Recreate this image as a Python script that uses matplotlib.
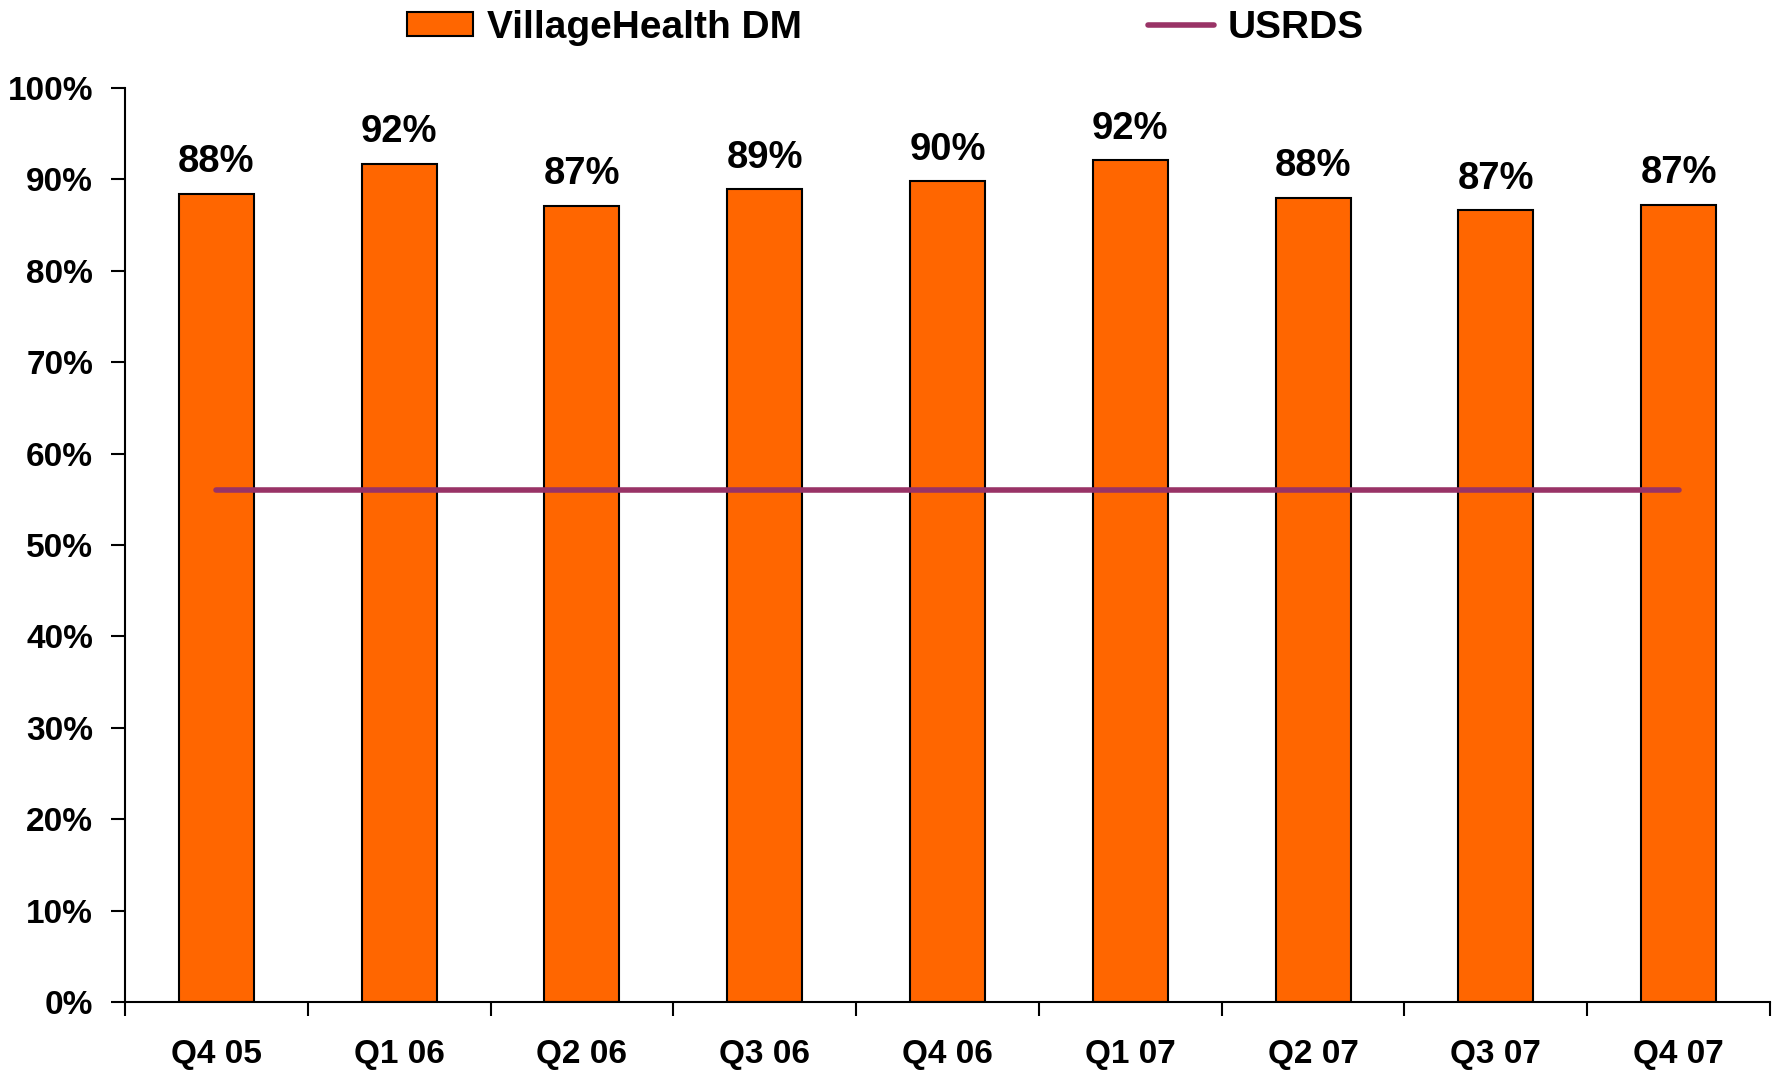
import matplotlib
matplotlib.use("Agg")
import matplotlib.pyplot as plt
from matplotlib.ticker import FixedLocator, PercentFormatter
import numpy as np

categories = ["Q4 05", "Q1 06", "Q2 06", "Q3 06", "Q4 06", "Q1 07", "Q2 07", "Q3 07", "Q4 07"]
villagehealth = [0.884, 0.917, 0.871, 0.889, 0.898, 0.921, 0.880, 0.866, 0.872]
bar_labels = ["88%", "92%", "87%", "89%", "90%", "92%", "88%", "87%", "87%"]
usrds = [0.56, 0.56, 0.56, 0.56, 0.56, 0.56, 0.56, 0.56, 0.56]
yticks = [0, 0.1, 0.2, 0.3, 0.4, 0.5, 0.6, 0.7, 0.8, 0.9, 1.0]

plt.rcParams['font.family'] = ['Liberation Sans', 'DejaVu Sans']
plt.rcParams['font.weight'] = 'bold'

fig = plt.figure(figsize=(17.8, 10.7), dpi=100)
ax = fig.add_axes([125/1780, 1-1002/1070, (1770-125)/1780, (1002-88)/1070])

x = np.arange(len(categories))
bars = ax.bar(x, villagehealth, width=0.41, color="#FF6600", edgecolor="black",
              linewidth=1.5, label="VillageHealth DM", zorder=2)
line, = ax.plot(x, usrds, color="#993366", linewidth=4.0, solid_capstyle="round",
                label="USRDS", zorder=3)

for xi, v, lab in zip(x, villagehealth, bar_labels):
    ax.annotate(lab, (xi, v), xytext=(0, 15.5), textcoords="offset points",
                ha="center", va="baseline", fontsize=27.5, fontweight="bold")

ax.set_xlim(-0.5, len(categories) - 0.5)
ax.set_ylim(0, 1.0)
ax.yaxis.set_major_locator(FixedLocator(yticks))
ax.yaxis.set_major_formatter(PercentFormatter(1.0, decimals=0))
ax.set_xticks(x)
ax.set_xticklabels(categories)
ax.xaxis.set_minor_locator(FixedLocator(np.arange(len(categories) + 1) - 0.5))
ax.tick_params(axis="x", which="major", length=0, pad=26.5, labelsize=24)
ax.tick_params(axis="x", which="minor", length=10, width=1.5, direction="out")
ax.tick_params(axis="y", which="major", length=10, width=1.5, pad=13, labelsize=24)
for lab in ax.get_xticklabels() + ax.get_yticklabels():
    lab.set_fontweight("bold")

ax.spines["top"].set_visible(False)
ax.spines["right"].set_visible(False)
ax.spines["left"].set_linewidth(1.5)
ax.spines["bottom"].set_linewidth(1.5)

fig.legend(handles=[bars, line], labels=["VillageHealth DM", "USRDS"],
           loc="center", bbox_to_anchor=(885.5/1780, 1-28/1070), ncol=2,
           frameon=False, handlelength=1.7, handleheight=0.57,
           handletextpad=0.36, columnspacing=8.9, borderpad=0,
           prop={"weight": "bold", "size": 28})

fig.savefig("out.png", dpi=100)
